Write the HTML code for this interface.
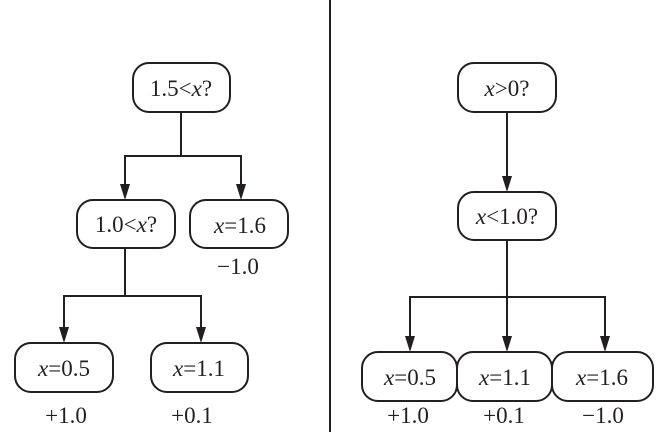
<!DOCTYPE html>
<html><head><meta charset="utf-8"><style>body{margin:0;background:#fff}svg{display:block}text{font-family:"Liberation Serif",serif;font-size:23px;fill:#231f20}</style></head><body>
<svg width="662" height="441" viewBox="0 0 662 441" xmlns="http://www.w3.org/2000/svg">
<g stroke="#231f20" stroke-width="2" fill="none">
<line x1="330" y1="0" x2="330" y2="432"/>
<rect x="133" y="63" width="97" height="49" rx="16"/>
<rect x="77" y="200" width="98" height="48" rx="16"/>
<rect x="190" y="200" width="98" height="48" rx="16"/>
<rect x="15" y="343" width="98" height="49" rx="16"/>
<rect x="151" y="343" width="97" height="49" rx="16"/>
<polyline points="181,112 181,156 125,156 125,186"/>
<polyline points="181,156 241,156 241,186"/>
<polyline points="125,248 125,296 64,296 64,329"/>
<polyline points="125,296 201,296 201,329"/>
<rect x="458" y="63" width="98" height="49" rx="16"/>
<rect x="458" y="192" width="98" height="48" rx="16"/>
<rect x="362" y="352" width="95" height="49" rx="16"/>
<rect x="457" y="352" width="95" height="49" rx="16"/>
<rect x="552" y="352" width="101" height="49" rx="16"/>
<line x1="507" y1="112" x2="507" y2="176"/>
<polyline points="507,240 507,297 410,297 410,338"/>
<line x1="507" y1="297" x2="507" y2="338"/>
<polyline points="507,297 605,297 605,338"/>
</g>
<g fill="#231f20">
<path d="M120,184 L130,184 L125,200 Z"/>
<path d="M236,184 L246,184 L241,200 Z"/>
<path d="M59,327 L69,327 L64,343 Z"/>
<path d="M196,327 L206,327 L201,343 Z"/>
<path d="M502,176 L512,176 L507,192 Z"/>
<path d="M405,336 L415,336 L410,352 Z"/>
<path d="M502,336 L512,336 L507,352 Z"/>
<path d="M600,336 L610,336 L605,352 Z"/>
</g>
<g text-anchor="middle">
<text x="181" y="96">1.5&lt;<tspan font-style="italic">x</tspan>?</text>
<text x="126" y="232">1.0&lt;<tspan font-style="italic">x</tspan>?</text>
<text x="240" y="233"><tspan font-style="italic">x</tspan>=1.6</text>
<text x="238" y="274">−1.0</text>
<text x="64" y="376"><tspan font-style="italic">x</tspan>=0.5</text>
<text x="199" y="376"><tspan font-style="italic">x</tspan>=1.1</text>
<text x="66" y="423">+1.0</text>
<text x="192" y="423">+0.1</text>
<text x="507" y="96"><tspan font-style="italic">x</tspan>&gt;0?</text>
<text x="507" y="224"><tspan font-style="italic">x</tspan>&lt;1.0?</text>
<text x="410" y="385"><tspan font-style="italic">x</tspan>=0.5</text>
<text x="505" y="385"><tspan font-style="italic">x</tspan>=1.1</text>
<text x="602" y="385"><tspan font-style="italic">x</tspan>=1.6</text>
<text x="408" y="423">+1.0</text>
<text x="504" y="423">+0.1</text>
<text x="603" y="423">−1.0</text>
</g>
</svg>
</body></html>
